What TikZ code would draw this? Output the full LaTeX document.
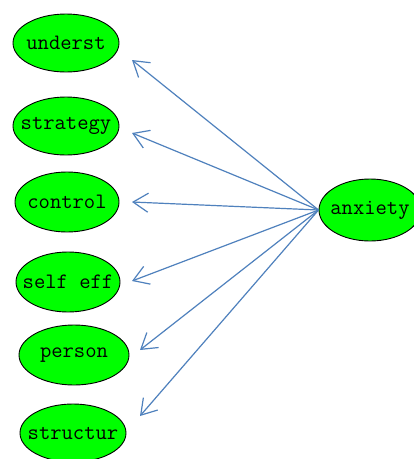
\documentclass[tikz,border=0pt]{standalone}
\usetikzlibrary{shapes.geometric,arrows.meta}
\definecolor{arrowblue}{RGB}{79,129,189}
\definecolor{nodegreen}{RGB}{0,255,0}
\newcommand{\lbl}[1]{\makebox[0pt]{#1}}
\tikzset{
  var/.style={ellipse, draw=black, line width=0.9pt, fill=nodegreen, inner sep=0pt,
    minimum width=106pt, minimum height=58pt, font=\ttfamily\fontsize{22}{24}\selectfont},
  link/.style={draw=arrowblue, line width=1.2pt, -{Straight Barb[length=15pt,width=19pt,line width=1.2pt]}}
}
\begin{document}
\begin{tikzpicture}[x=1pt,y=-1pt]
\useasboundingbox[fill=white] (0,0) rectangle (414,459);
\node[var] (underst) at (66,43) {\lbl{underst}};
\node[var] (strategy) at (66,126) {\lbl{strategy}};
\node[var, minimum width=104pt, minimum height=60pt] (control) at (67,202) {\lbl{control}};
\node[var, minimum width=104pt, minimum height=60pt] (selfeff) at (68,282) {\lbl{self eff}};
\node[var, minimum width=110pt, minimum height=60pt] (person) at (74,355) {\lbl{person}};
\node[var] (structur) at (73,433) {\lbl{structur}};
\node[var, minimum width=102pt, minimum height=62pt] (anxiety) at (370,210) {\lbl{anxiety}};
\coordinate (t1) at (132,60);
\coordinate (t2) at (132,133);
\coordinate (t3) at (132,202);
\coordinate (t4) at (132,281);
\coordinate (t5) at (140,350);
\coordinate (t6) at (140,416);
\foreach \t in {t1,t2,t3,t4,t5,t6}{
  \draw[link] (anxiety.west) -- (\t);
}
\end{tikzpicture}
\end{document}
